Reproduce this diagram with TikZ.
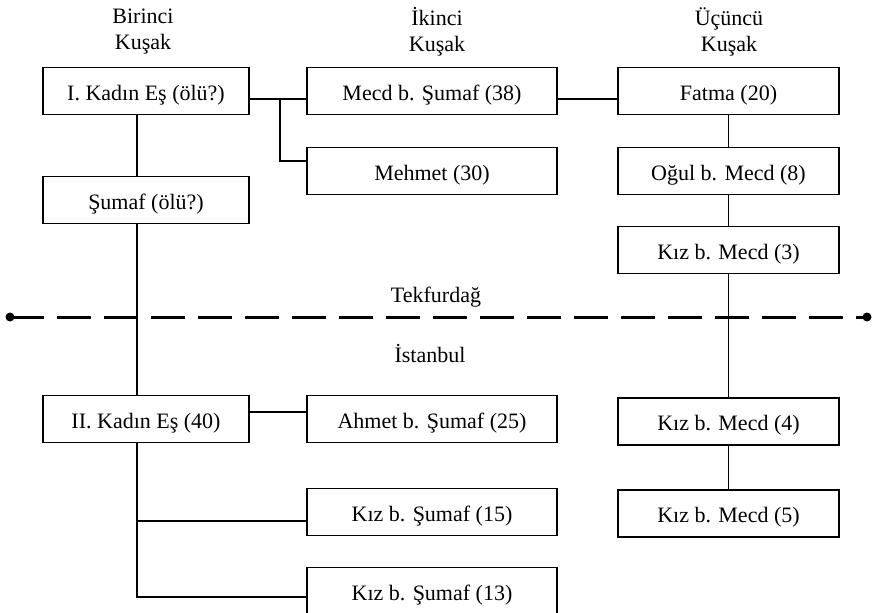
\documentclass[tikz,border=0pt]{standalone}
\usepackage{fontspec}
\setmainfont{Liberation Serif}
\begin{document}
\begin{tikzpicture}[x=1pt,y=-1pt,
  box/.style={draw, line width=1.1pt, minimum height=47pt, inner sep=0pt, text height=20pt, text depth=2pt, font=\fontsize{22}{26}\selectfont},
  lbox/.style={box, minimum width=206pt},
  mbox/.style={box, minimum width=250pt},
  rbox/.style={box, minimum width=221pt},
  hdr/.style={align=center, font=\fontsize{22}{26}\selectfont},
  lbl/.style={font=\fontsize{22}{26}\selectfont},
  link/.style={line width=1.1pt},
  border/.style={line width=3pt, dash pattern=on 34pt off 13pt}]
\useasboundingbox (0,0) rectangle (879,613);
\clip (0,0) rectangle (879,613);

\node[hdr] (h1) at (143,32) {Birinci\\Kuşak};
\node[hdr] (h2) at (437,32) {İkinci\\Kuşak};
\node[hdr] (h3) at (729,32) {Üçüncü\\Kuşak};

\node[lbox] (k1) at (146,91) {I. Kadın Eş (ölü?)};
\node[lbox] (sumaf) at (146,200) {Şumaf (ölü?)};
\node[lbox] (k2) at (146,419) {II. Kadın Eş (40)};
\node[mbox] (mecd) at (432,91) {Mecd b. Şumaf (38)};
\node[mbox] (mehmet) at (432,171) {Mehmet (30)};
\node[mbox] (ahmet) at (432,419) {Ahmet b. Şumaf (25)};
\node[mbox] (kiz15) at (432,512) {Kız b. Şumaf (15)};
\node[mbox] (kiz13) at (432,591) {Kız b. Şumaf (13)};
\node[rbox] (fatma) at (728.5,91) {Fatma (20)};
\node[rbox] (ogul) at (728.5,171) {Oğul b. Mecd (8)};
\node[rbox] (kiz3) at (728.5,250) {Kız b. Mecd (3)};
\node[rbox] (kiz4) at (728.5,421.5) {Kız b. Mecd (4)};
\node[rbox] (kiz5) at (728.5,513.5) {Kız b. Mecd (5)};

\node[lbl] (tek) at (436,297) {Tekfurdağ};
\node[lbl] (ist) at (430,354) {İstanbul};

\coordinate (bl) at (10,317);
\coordinate (br) at (867,317);
\draw[border] (bl) -- (br);
\fill (bl) circle[radius=4.5pt];
\fill (br) circle[radius=4.5pt];

\coordinate (lx) at (137,0);
\coordinate (j1) at (280,99);
\coordinate (j2) at (280,161);
\coordinate (j3) at (0,412);
\coordinate (j4) at (0,521);
\coordinate (j5) at (0,597);
\draw[link] (k1.east |- j1) -- (mecd.west |- j1);
\draw[link] (j1) -- (j2) -- (mehmet.west |- j2);
\draw[link] (mecd.east |- j1) -- (fatma.west |- j1);
\draw[link] (k1.south -| lx) -- (sumaf.north -| lx);
\draw[link] (sumaf.south -| lx) -- (k2.north -| lx);
\draw[link] (k2.east |- j3) -- (ahmet.west |- j3);
\draw[link] (k2.south -| lx) -- (lx |- j5) -- (kiz13.west |- j5);
\draw[link] (lx |- j4) -- (kiz15.west |- j4);
\draw[link] (fatma.south) -- (ogul.north);
\draw[link] (ogul.south) -- (kiz3.north);
\draw[link] (kiz3.south) -- (kiz4.north);
\draw[link] (kiz4.south) -- (kiz5.north);
\end{tikzpicture}
\end{document}
